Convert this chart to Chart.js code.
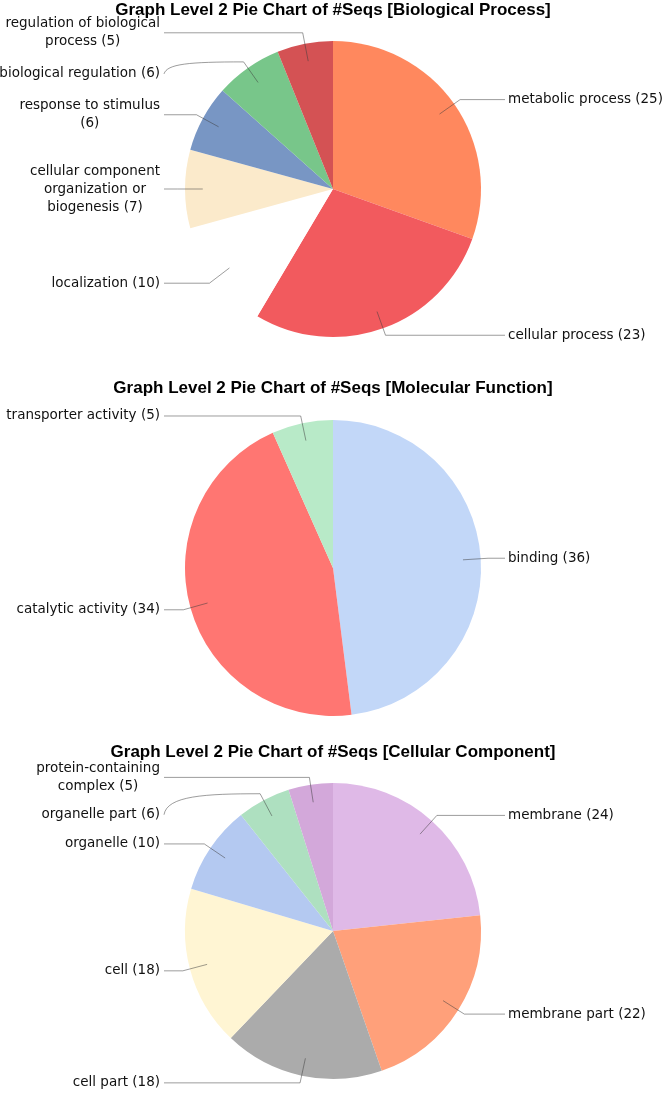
<!DOCTYPE html>
<html>
<head>
<meta charset="utf-8">
<script src="https://cdn.jsdelivr.net/npm/chart.js@4.4.1/dist/chart.umd.min.js"></script>
<style>
html, body { margin: 0; padding: 0; background: #fff; }
body { width: 666px; height: 1093px; position: relative; overflow: hidden; }
canvas { position: absolute; left: 0; }
</style>
</head>
<body>
<canvas id="bpChart" width="666" height="365" style="top:0px;width:666px;height:365px"></canvas>
<canvas id="mfChart" width="666" height="360" style="top:370px;width:666px;height:360px"></canvas>
<canvas id="ccChart" width="666" height="359" style="top:734px;width:666px;height:359px"></canvas>
<script>
// Biological Process
const bpLabels = ['metabolic process', 'cellular process', 'localization', 'cellular component organization or biogenesis', 'response to stimulus', 'biological regulation', 'regulation of biological process'];
const bpCounts = [25, 23, 10, 7, 6, 6, 5];
const bpColors = ['#FF885E', '#F25A5E', '#FFFFFF', '#FBEACB', '#7896C4', '#78C68A', '#D45254'];

// Molecular Function
const mfLabels = ['binding', 'catalytic activity', 'transporter activity'];
const mfCounts = [36, 34, 5];
const mfColors = ['#C2D7F8', '#FF7672', '#B8EAC8'];

// Cellular Component
const ccLabels = ['membrane', 'membrane part', 'cell part', 'cell', 'organelle', 'organelle part', 'protein-containing complex'];
const ccCounts = [24, 22, 18, 18, 10, 6, 5];
const ccColors = ['#DFB9E7', '#FFA07A', '#ABABAB', '#FFF5D3', '#B4C9F1', '#AEE0C0', '#D3A8DA'];

const LABEL_FONT = '13.5px "DejaVu Sans"';

function wrapText(ctx, text, maxWidth) {
    const words = text.split(' ');
    const lines = [];
    let line = '';
    words.forEach(w => {
        const test = line ? line + ' ' + w : w;
        if (line && ctx.measureText(test).width > maxWidth) {
            lines.push(line);
            line = w;
        } else {
            line = test;
        }
    });
    lines.push(line);
    return lines;
}

// draws the leader lines and the slice labels
const leaderLines = {
    id: 'leaderLines',
    afterDatasetsDraw(chart, args, opts) {
        const ctx = chart.ctx;
        const meta = chart.getDatasetMeta(0);
        const labels = chart.data.labels;
        const values = chart.data.datasets[0].data;
        const tweaks = opts.tweaks || {};
        ctx.save();
        ctx.font = LABEL_FONT;
        ctx.textBaseline = 'middle';
        meta.data.forEach((arc, i) => {
            const p = arc.getProps(['x', 'y', 'startAngle', 'endAngle', 'outerRadius'], true);
            const mid = (p.startAngle + p.endAngle) / 2;
            const dx = Math.cos(mid), dy = Math.sin(mid);
            const t = tweaks[i] || {};
            const k = t.k || 1.05;
            const ex = p.x + dx * p.outerRadius * 0.88;
            const ey = p.y + dy * p.outerRadius * 0.88;
            const bx = p.x + dx * p.outerRadius * k;
            const by = p.y + dy * p.outerRadius * k;
            const right = dx >= 0;
            const ly = by + (t.dy || 0);
            const lx = right ? p.x + 175 : p.x - 173;
            const tx = right ? lx - 3 : lx + 4;

            ctx.strokeStyle = 'rgba(60,60,60,0.5)';
            ctx.lineWidth = 1;
            ctx.beginPath();
            ctx.moveTo(ex, ey);
            ctx.lineTo(bx, by);
            if (t.curve) {
                ctx.bezierCurveTo(bx - 55, by, tx + 3, by + 2, tx, ly);
            } else {
                ctx.lineTo(tx, ly);
            }
            ctx.stroke();

            const lines = wrapText(ctx, labels[i] + ' (' + values[i] + ')', t.wrap || opts.wrap || 999);
            ctx.fillStyle = '#111';
            const lh = 18;
            if (right) {
                ctx.textAlign = 'left';
                lines.forEach((s, j) => ctx.fillText(s, lx, ly + (j - (lines.length - 1) / 2) * lh));
            } else {
                const w = Math.max(...lines.map(s => ctx.measureText(s).width));
                ctx.textAlign = 'center';
                lines.forEach((s, j) => ctx.fillText(s, lx - w / 2, ly + (j - (lines.length - 1) / 2) * lh));
            }
        });
        ctx.restore();
    }
};

function createPieChart(id, title, labels, counts, colors, titlePad, bottomPad, labelOpts) {
    const ctx = document.getElementById(id).getContext('2d');
    return new Chart(ctx, {
        type: 'pie',
        data: {
            labels: labels,
            datasets: [{
                data: counts,
                backgroundColor: colors,
                borderWidth: 0,
                hoverOffset: 0,
                radius: 148,
            }]
        },
        plugins: [leaderLines],
        options: {
            responsive: false,
            animation: false,
            devicePixelRatio: 1,
            events: [],
            layout: {
                padding: { left: 0, right: 0, top: 0, bottom: bottomPad }
            },
            plugins: {
                legend: { display: false },
                tooltip: { enabled: false },
                title: {
                    display: true,
                    text: title,
                    color: '#000',
                    font: { family: '"Liberation Sans", Arial, sans-serif', size: 17, weight: 'bold', lineHeight: '20px' },
                    padding: titlePad
                },
                leaderLines: labelOpts
            }
        }
    });
}

createPieChart('bpChart', 'Graph Level 2 Pie Chart of #Seqs [Biological Process]',
    bpLabels, bpCounts, bpColors, { top: 0, bottom: 21 }, 28,
    { wrap: 165, tweaks: { 4: { wrap: 150 }, 5: { curve: true, dy: 12 }, 6: { k: 1.075 } } });

createPieChart('mfChart', 'Graph Level 2 Pie Chart of #Seqs [Molecular Function]',
    mfLabels, mfCounts, mfColors, { top: 8, bottom: 22 }, 14,
    { wrap: 999 });

createPieChart('ccChart', 'Graph Level 2 Pie Chart of #Seqs [Cellular Component]',
    ccLabels, ccCounts, ccColors, { top: 8, bottom: 21 }, 14,
    { wrap: 165, tweaks: { 5: { curve: true, dy: 21 } } });
</script>
</body>
</html>
